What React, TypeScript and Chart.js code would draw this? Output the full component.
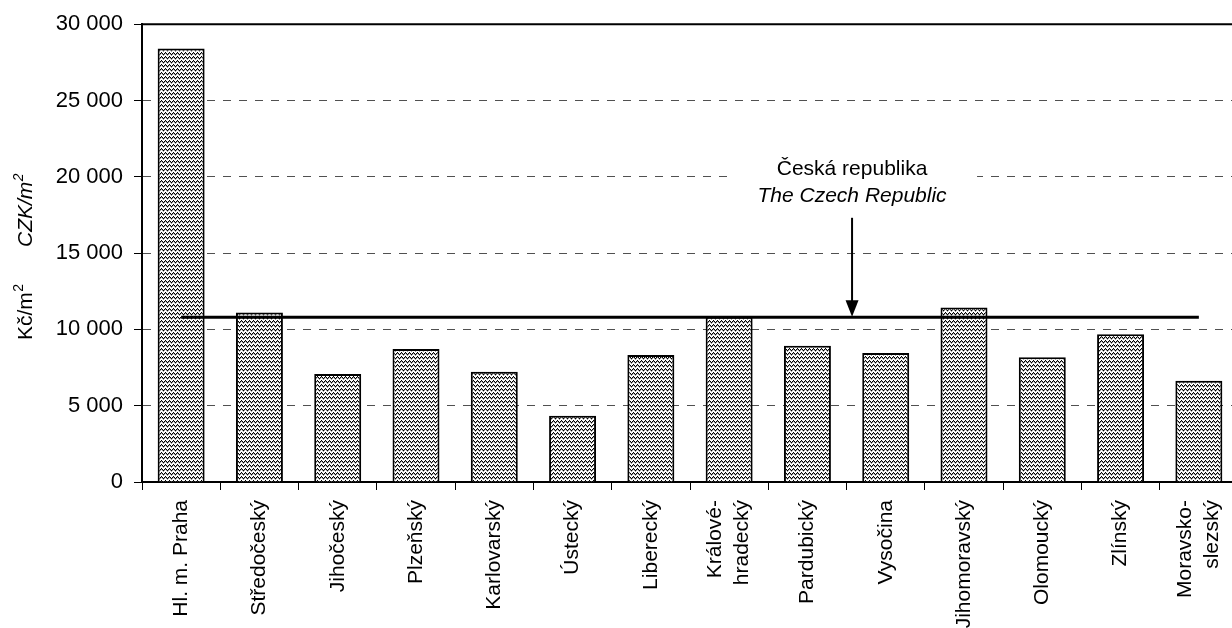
import { useEffect, useRef } from 'react';
import { Chart, registerables } from 'chart.js';

Chart.register(...registerables);

const FONT = '"Liberation Sans", Arial, Helvetica, sans-serif';

const categories: (string | string[])[] = [
  'Hl. m. Praha',
  'Středočeský',
  'Jihočeský',
  'Plzeňský',
  'Karlovarský',
  'Ústecký',
  'Liberecký',
  ['Králové-', 'hradecký'],
  'Pardubický',
  'Vysočina',
  'Jihomoravský',
  'Olomoucký',
  'Zlínský',
  ['Moravsko-', 'slezský'],
];

const prices = [28400, 11100, 7070, 8710, 7220, 4340, 8320, 10830, 8930, 8450, 11440, 8170, 9690, 6630];

const czechAverage = [10800, 10800, 10800, 10800, 10800, 10800, 10800, 10800, 10800, 10800, 10800, 10800, 10800, 10800];

const yTickLabels = ['0', '5 000', '10 000', '15 000', '20 000', '25 000', '30 000'];

const annotationLines = ['Česká republika', 'The Czech Republic'];
const annotationCategoryPos = 8.57;
const annotationLabelValue = 20000;

export default function App() {
  const ref = useRef<HTMLCanvasElement>(null);

  useEffect(() => {
    const canvas = ref.current!;
    const tile = document.createElement('canvas');
    tile.width = 4;
    tile.height = 4;
    const t = tile.getContext('2d')!;
    t.fillStyle = '#ffffff';
    t.fillRect(0, 0, 4, 4);
    t.fillStyle = '#9a9a9a';
    [[0, 2], [1, 1], [2, 2], [3, 3]].forEach(([px, py]) => t.fillRect(px, py, 1, 1));
    t.fillStyle = '#000000';
    [[0, 1], [1, 0], [2, 1], [3, 2]].forEach(([px, py]) => t.fillRect(px, py, 1, 1));
    const pattern = canvas.getContext('2d')!.createPattern(tile, 'repeat')!;

    const decor = {
      id: 'decor',
      afterDatasetsDraw(chart: any) {
        const { ctx, chartArea: a, scales } = chart;
        const x = scales.x;
        const y = scales.y;
        ctx.save();
        // top frame line
        ctx.strokeStyle = '#000';
        ctx.lineWidth = 2;
        ctx.beginPath();
        ctx.moveTo(a.left - 1, a.top);
        ctx.lineTo(a.right + 2, a.top);
        ctx.stroke();

        // annotation
        const i0 = Math.floor(annotationCategoryPos);
        const p0 = x.getPixelForValue(i0);
        const p1 = x.getPixelForValue(i0 + 1);
        const ax = p0 + (p1 - p0) * (annotationCategoryPos - i0);
        const yl = y.getPixelForValue(annotationLabelValue);
        const ya = y.getPixelForValue(czechAverage[0]);

        ctx.fillStyle = '#fff';
        ctx.fillRect(ax - 125, yl - 24, 250, 56);

        ctx.fillStyle = '#000';
        ctx.textAlign = 'center';
        ctx.textBaseline = 'alphabetic';
        ctx.font = `21px ${FONT}`;
        ctx.fillText(annotationLines[0], ax, yl - 1.5);
        ctx.font = `italic 21px ${FONT}`;
        ctx.fillText(annotationLines[1], ax, yl + 25);

        ctx.strokeStyle = '#000';
        ctx.lineWidth = 2;
        ctx.beginPath();
        ctx.moveTo(ax, yl + 41);
        ctx.lineTo(ax, ya - 14);
        ctx.stroke();
        ctx.beginPath();
        ctx.moveTo(ax - 6.5, ya - 17);
        ctx.lineTo(ax + 6.5, ya - 17);
        ctx.lineTo(ax, ya - 0.5);
        ctx.closePath();
        ctx.fill();
        ctx.restore();
      },
      afterDraw(chart: any) {
        const { ctx, chartArea: a, scales } = chart;
        const x = scales.x;
        ctx.save();
        // x category labels, rotated, multi-line ones centred on their tick
        ctx.fillStyle = '#000';
        ctx.font = `21px ${FONT}`;
        ctx.textAlign = 'right';
        ctx.textBaseline = 'middle';
        const lh = 27;
        categories.forEach((lab, i) => {
          const lines = Array.isArray(lab) ? lab : [lab];
          const cx = x.getPixelForValue(i);
          ctx.save();
          ctx.translate(cx, a.bottom + 18);
          ctx.rotate(-Math.PI / 2);
          lines.forEach((ln, k) => {
            ctx.fillText(ln, 0, (k - (lines.length - 1) / 2) * lh);
          });
          ctx.restore();
        });
        ctx.restore();

        // y title
        ctx.save();
        ctx.translate(32, 340);
        ctx.rotate(-Math.PI / 2);
        ctx.fillStyle = '#000';
        ctx.textAlign = 'left';
        ctx.textBaseline = 'alphabetic';
        let pos = 0;
        ctx.font = `21px ${FONT}`;
        ctx.fillText('Kč/m', pos, 0);
        pos += ctx.measureText('Kč/m').width;
        ctx.font = `14px ${FONT}`;
        ctx.fillText('2', pos + 0.5, -9);
        pos = 93;
        ctx.font = `italic 21px ${FONT}`;
        ctx.fillText('CZK/m', pos, 0);
        pos += ctx.measureText('CZK/m').width;
        ctx.font = `italic 14px ${FONT}`;
        ctx.fillText('2', pos + 0.5, -9);
        ctx.restore();
      },
    };

    const chart = new Chart(canvas, {
      type: 'bar',
      data: {
        labels: categories as any,
        datasets: [
          {
            type: 'line',
            data: czechAverage,
            borderColor: '#000',
            borderWidth: 3,
            pointRadius: 0,
            fill: false,
            order: 1,
          } as any,
          {
            type: 'bar',
            data: prices,
            backgroundColor: pattern as any,
            borderColor: '#000',
            borderWidth: 2,
            barPercentage: 0.6,
            categoryPercentage: 1,
            order: 2,
          },
        ],
      },
      options: {
        responsive: false,
        animation: false,
        devicePixelRatio: 1,
        layout: { padding: { top: 24, right: 1, left: 0, bottom: 0 } },
        plugins: { legend: { display: false }, tooltip: { enabled: false } },
        scales: {
          x: {
            offset: true,
            grid: {
              display: true,
              drawOnChartArea: false,
              drawTicks: true,
              tickLength: 8,
              tickColor: '#000',
              tickWidth: 1,
              offset: true,
            },
            border: { display: true, color: '#000', width: 2 },
            ticks: {
              display: false,
              autoSkip: false,
              minRotation: 90,
              maxRotation: 90,
            },
            afterFit: (s: any) => {
              s.height = 146;
              s.paddingLeft = 0;
              s.paddingRight = 0;
            },
          },
          y: {
            min: 0,
            max: 30000,
            ticks: {
              stepSize: 5000,
              padding: 11,
              color: '#000',
              font: { family: FONT, size: 22 },
              callback: (_v: any, i: number) => yTickLabels[i],
            },
            grid: {
              color: (c: any) =>
                c.tick && (c.tick.value === 0 || c.tick.value === 30000) ? 'rgba(0,0,0,0)' : '#505050',
              lineWidth: 1,
              tickColor: '#000',
              tickLength: 8,
              drawTicks: true,
            },
            border: { display: true, color: '#000', width: 2, dash: [8, 8] },
            afterFit: (s: any) => {
              s.width = 142;
            },
          },
        },
      },
      plugins: [decor],
    });

    return () => chart.destroy();
  }, []);

  return (
    <div
      style={{
        position: 'fixed',
        left: 0,
        top: 0,
        width: 1232,
        height: 628,
        overflow: 'hidden',
        background: '#fff',
      }}
    >
      <canvas ref={ref} width={1239} height={628} style={{ display: 'block' }} />
    </div>
  );
}
